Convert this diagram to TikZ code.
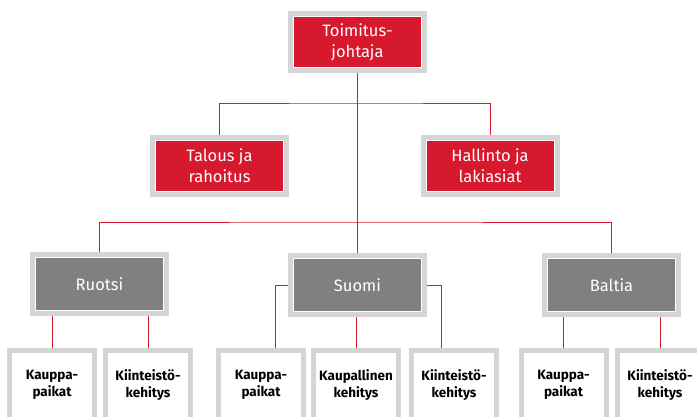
\documentclass[tikz,border=0pt]{standalone}
\usepackage{fontspec}
\setmainfont{Fira Sans}
\usepackage{tikz}
\definecolor{orgred}{HTML}{D7192D}
\definecolor{orggray}{HTML}{808083}
\definecolor{framegray}{HTML}{D5D5D7}

\begin{document}
\begin{tikzpicture}[x=1pt,y=-1pt,
  box/.style={draw=white, line width=0.8pt, align=center, inner sep=0pt, outer sep=5.5pt,
    preaction={draw=framegray, line width=11pt}},
  redbox/.style={box, fill=orgred, text=white, minimum width=128pt, minimum height=51pt,
    font=\fontsize{16.5}{21}\selectfont},
  graybox/.style={box, fill=orggray, text=white, minimum width=128pt, minimum height=53pt,
    font=\fontsize{16.5}{21}\selectfont},
  leaf/.style={box, fill=white, text=black, minimum width=79pt, minimum height=63pt,
    font=\fontsize{13.5}{16.5}\selectfont\bfseries},
  link/.style={draw=orgred, line width=1pt}]
 \useasboundingbox (0,0) rectangle (697,416);
 \node[redbox] (toim) at (357.5,42) {Toimitus-\\johtaja};
 \node[redbox] (talous) at (219.5,165.5) {Talous ja\\rahoitus};
 \node[redbox] (hallinto) at (490,165.5) {Hallinto ja\\lakiasiat};
%
 \node[graybox] (ruotsi) at (99.5,284) {Ruotsi};
 \node[graybox] (suomi) at (357.5,285) {Suomi};
 \node[graybox] (baltia) at (611.5,285) {Baltia};
%
 \node[leaf] (rkp) at (52,385) {Kauppa-\\paikat};
 \node[leaf] (rkk) at (148,385) {Kiinteistö-\\kehitys};
 \node[leaf] (skp) at (261,385) {Kauppa-\\paikat};
 \node[leaf] (skl) at (356,385) {Kaupallinen\\kehitys};
 \node[leaf] (skk) at (454,385) {Kiinteistö-\\kehitys};
 \node[leaf] (bkp) at (563.5,385) {Kauppa-\\paikat};
 \node[leaf] (bkk) at (660,385) {Kiinteistö-\\kehitys};
%
 \coordinate (bus1) at (357.5,103);
 \coordinate (bus2) at (357.5,222);
 \draw[link] (toim.south) -- (suomi.north);
 \draw[link] (talous.north) |- (bus1) -| (hallinto.north);
 \draw[link] (ruotsi.north) |- (bus2) -| (baltia.north);
%
 \draw[link] (rkp.north) -- (rkp.north |- ruotsi.south);
 \draw[link] (rkk.north) -- (rkk.north |- ruotsi.south);
 \draw[link] (suomi.west) -| ([xshift=14pt]skp.north);
 \draw[link] (suomi.east) -| ([xshift=-13pt]skk.north);
 \draw[link] (skl.north) -- (skl.north |- suomi.south);
 \draw[link] (bkp.north) -- (bkp.north |- baltia.south);
 \draw[link] (bkk.north) -- (bkk.north |- baltia.south);
\end{tikzpicture}
\end{document}
